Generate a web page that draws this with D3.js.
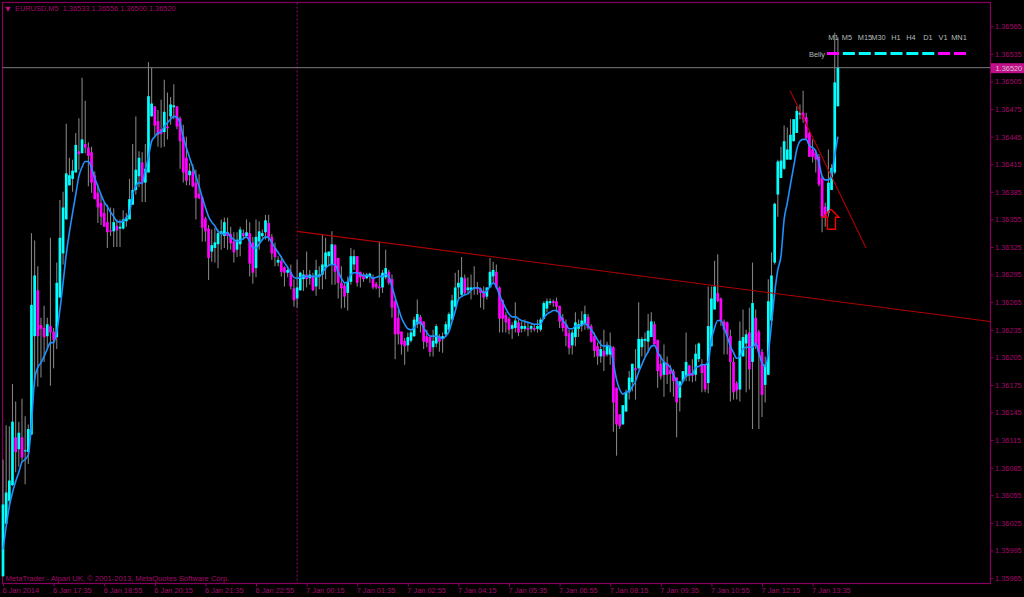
<!DOCTYPE html>
<html><head><meta charset="utf-8">
<script src="https://cdn.jsdelivr.net/npm/d3@7/dist/d3.min.js"></script>
<style>
html,body{margin:0;padding:0;background:#000;overflow:hidden}
svg{display:block}
text{font-family:"Liberation Sans",Arial,sans-serif}
</style></head><body><svg id="c" width="1024" height="597"></svg>
<script>
// all prices are stored as points above 1.36000 (1 point = 0.00001)
const opens=[
-33,24,49,66,118,105,118,103,102,121,
228,278,240,237,228,239,233,227,270,318,
355,392,399,406,429,427,437,433,428,403,
384,373,362,352,343,342,348,345,345,353,
355,371,387,402,417,395,406,467,478,462,
453,450,456,467,477,478,465,445,422,403,
407,395,383,379,356,345,320,324,328,339,
337,341,339,331,322,328,340,337,340,330,
302,331,337,341,351,336,324,308,310,303,
297,298,280,269,278,290,295,291,293,282,
293,295,303,315,306,327,313,286,283,275,
287,306,315,298,295,291,293,292,285,282,
281,292,298,290,266,248,233,223,218,223,
228,241,249,244,228,227,216,220,228,225,
230,235,246,260,281,273,291,278,278,280,
281,280,277,271,281,293,298,281,267,251,
247,236,237,243,236,236,237,236,237,236,
235,247,258,264,266,266,261,248,241,231,
218,227,236,239,241,249,239,228,217,206,
212,208,208,216,172,143,132,146,167,178,
193,193,216,223,222,227,241,224,198,186,
199,191,190,183,161,179,184,196,188,186,
203,197,197,177,217,257,275,269,244,243,
228,200,177,170,206,220,232,200,248,233,
211,175,186,245,308,382,400,410,420,420,
440,449,469,471,466,449,431,428,423,400,
369,362,387,406,478];
const highs=[
94,131,130,176,157,135,160,141,132,340,
332,304,248,261,248,335,237,308,376,385,
459,422,420,449,465,509,484,439,434,407,
393,382,374,371,368,367,355,355,365,362,
399,437,467,429,428,437,526,520,478,474,
485,507,493,488,502,478,467,458,445,416,
415,409,404,379,358,349,344,346,344,355,
357,357,347,341,341,347,344,355,352,336,
355,353,344,360,360,339,330,315,315,304,
303,306,290,311,298,300,320,300,297,311,
304,339,335,320,342,328,313,304,286,293,
324,322,315,298,297,297,297,295,287,331,
300,322,300,295,268,257,233,226,232,235,
249,268,251,244,235,227,235,241,230,232,
244,254,273,297,300,314,295,292,295,304,
287,281,282,281,313,309,306,282,268,254,
249,243,265,246,244,246,244,241,241,246,
248,266,269,269,268,270,261,252,246,235,
235,254,246,255,261,252,241,232,221,224,
235,222,232,217,172,143,153,170,190,198,
214,265,227,232,252,254,244,224,208,219,
206,197,192,183,179,190,232,197,203,219,
221,203,197,282,282,310,317,270,246,244,
235,205,179,244,257,235,259,308,257,235,
214,206,290,319,373,420,434,457,455,464,
464,478,480,495,471,450,442,431,426,402,
373,431,415,558,553];
const lows=[
-34,24,43,65,80,86,91,67,89,121,
173,173,183,200,214,174,193,214,270,306,
355,392,385,406,409,427,427,391,384,377,
351,349,347,324,337,325,325,325,344,347,
355,371,382,390,374,374,406,467,446,434,
433,434,442,458,464,453,410,395,392,392,
390,355,377,331,331,289,309,308,302,322,
324,322,322,308,314,315,333,335,293,285,
292,322,335,333,331,311,304,304,293,282,
292,279,260,259,277,277,281,284,277,272,
279,279,290,304,284,284,269,258,259,256,
284,300,282,281,287,290,286,279,279,270,
275,290,284,248,203,219,208,197,211,221,
227,237,232,214,216,206,206,216,211,210,
227,233,244,259,268,272,273,275,268,273,
273,259,257,268,281,287,279,232,232,232,
230,225,232,228,232,233,228,232,233,232,
233,246,254,262,260,254,237,233,217,208,
208,217,227,233,235,235,221,205,197,199,
190,206,197,124,98,127,132,146,159,168,
159,192,206,206,210,227,219,172,181,162,
176,167,162,118,146,178,179,179,178,179,
200,167,167,166,217,257,265,239,208,208,
157,159,159,157,206,167,170,127,214,127,
140,156,186,245,306,358,400,409,420,420,
440,449,464,460,443,423,417,406,391,341,
347,358,387,404,478];
const closes=[
45,58,71,135,102,123,96,104,127,262,
294,228,236,227,241,232,224,286,335,368,
405,403,408,436,426,442,433,424,395,377,
368,358,347,341,342,352,343,347,355,357,
377,387,409,422,395,410,489,481,457,447,
448,472,454,480,479,456,440,406,397,408,
391,378,378,346,342,313,327,330,340,342,
352,337,329,319,333,344,337,341,307,297,
336,342,340,354,336,318,314,311,298,297,
300,282,267,281,297,295,290,295,278,300,
295,306,319,320,328,298,286,280,271,287,
315,315,286,292,290,295,296,281,281,280,
297,302,286,259,230,230,219,217,227,232,
246,252,241,222,221,211,223,239,222,228,
241,252,267,281,286,292,275,281,281,281,
279,275,270,281,298,300,281,247,247,243,
235,240,245,232,239,239,235,239,235,239,
246,264,266,266,264,260,244,237,228,215,
232,243,241,245,252,237,222,212,206,214,
206,218,217,156,132,130,153,167,183,198,
191,225,225,225,234,244,219,190,184,200,
186,187,179,156,179,190,200,185,185,209,
220,188,170,239,269,282,266,244,235,228,
200,167,169,223,227,230,192,264,217,210,
164,197,266,294,372,418,419,440,431,447,
464,473,471,464,443,423,423,420,393,358,
358,395,411,504,520];
const maValues=[
-4,21,43,58,70,80,91,94,99,132,
181,194,199,206,214,221,221,233,257,286,
317,341,362,382,402,412,418,418,411,400,
391,382,374,369,363,358,353,352,353,357,
362,382,391,395,394,409,423,440,445,449,
450,456,460,464,467,466,460,444,433,422,
412,402,391,379,368,358,352,348,342,340,
339,341,336,333,331,332,334,336,331,324,
324,328,333,336,335,330,324,319,314,308,
303,297,292,291,292,293,293,293,293,293,
293,297,302,305,306,306,298,291,286,287,
295,297,297,295,294,294,293,291,292,293,
293,295,293,282,270,259,248,241,236,235,
237,243,243,237,232,228,228,228,227,225,
228,233,244,255,268,271,273,274,278,280,
281,279,275,277,282,286,282,273,265,258,
252,249,249,247,245,244,243,242,241,241,
241,248,252,254,256,256,252,245,241,236,
236,239,239,240,242,239,235,230,224,219,
217,218,216,199,181,170,165,167,168,173,
179,189,197,205,211,217,218,211,205,200,
197,194,186,179,173,179,185,186,187,194,
195,197,197,200,224,237,245,245,237,228,
217,210,204,206,214,216,216,216,220,210,
199,195,210,241,275,300,315,355,373,393,
412,431,440,442,442,435,433,429,417,402,
398,398,404,425,445];

const priceTicks=[565,535,505,475,445,415,385,355,325,295,265,235,205,175,145,115,85,55,25,-5,-35];
const timeLabels=["6 Jan 2014","6 Jan 17:35","6 Jan 18:55","6 Jan 20:15","6 Jan 21:35","6 Jan 22:55","7 Jan 00:15","7 Jan 01:35","7 Jan 02:55","7 Jan 04:15","7 Jan 05:35","7 Jan 06:55","7 Jan 08:15","7 Jan 09:35","7 Jan 10:55","7 Jan 12:15","7 Jan 13:35"];
const barsPerTick=16;
const lastPrice=520;
const sessionBar=93;
const neckLine=[[93,342],[312.2,244]];
const fallLine=[[248.9,495],[272.9,324]];
const arrowAt=[261.8,366];
const timeframes=["M1","M5","M15","M30","H1","H4","D1","V1","MN1"];
const bellyUp=[0,1,1,1,1,1,1,0,0];

const CY="#00ffff",MG="#ff00ff",FR="#860060",TX="#a5086c";
const FS=7.4;
const svg=d3.select("#c");
const L=2.5,R=990.5,T=2.5,B=583.5;
svg.append("rect").attr("width",1024).attr("height",597).attr("fill","#000");

const x=d3.scaleLinear().domain([0,barsPerTick]).range([3,53.6]);
const y=d3.scaleLinear().domain([565,-35]).range([26.3,578]);

const gY=svg.append("g").attr("transform",`translate(${R},0)`)
 .call(d3.axisRight(y).tickValues(priceTicks).tickSize(3).tickPadding(1.5).tickFormat(d=>(1.36+d/1e5).toFixed(5)));
const gX=svg.append("g").attr("transform",`translate(0,${B})`)
 .call(d3.axisBottom(x).tickValues(timeLabels.map((d,i)=>i*barsPerTick)).tickSize(3).tickPadding(1).tickFormat((d,i)=>timeLabels[i]));
[gY,gX].forEach(g=>{g.select(".domain").remove();g.selectAll("line").attr("stroke",FR);g.selectAll("text").attr("fill",TX).attr("font-size",FS).attr("font-family","'Liberation Sans'");});
gX.selectAll("text").attr("text-anchor","start").attr("dx",-1);

svg.append("rect").attr("x",L).attr("y",T).attr("width",R-L).attr("height",B-T).attr("fill","none").attr("stroke",FR).attr("stroke-width",1.2);

svg.append("line").attr("x1",x(sessionBar)).attr("x2",x(sessionBar)).attr("y1",T).attr("y2",B).attr("stroke",FR).attr("stroke-width",1.2).attr("stroke-dasharray","2,2");

svg.append("line").attr("x1",L).attr("x2",R).attr("y1",y(lastPrice)).attr("y2",y(lastPrice)).attr("stroke","#7a7a7a").attr("stroke-width",1);

const idx=d3.range(opens.length);
svg.append("g").selectAll("line").data(idx).join("line")
 .attr("x1",i=>x(i)).attr("x2",i=>x(i)).attr("y1",i=>y(highs[i])).attr("y2",i=>y(lows[i]))
 .attr("stroke","#808080").attr("stroke-width",1.1);
svg.append("g").selectAll("rect").data(idx).join("rect")
 .attr("x",i=>x(i)-1.35).attr("width",2.7)
 .attr("y",i=>y(Math.max(opens[i],closes[i])))
 .attr("height",i=>Math.max(1.2,Math.abs(y(opens[i])-y(closes[i]))))
 .attr("fill",i=>closes[i]>=opens[i]?CY:MG);

svg.append("path").datum(idx).attr("fill","none").attr("stroke","#1e90ff").attr("stroke-width",1.6)
 .attr("d",d3.line().x(i=>x(i)).y(i=>y(maValues[i])).curve(d3.curveMonotoneX));

const ln=d3.line().x(d=>x(d[0])).y(d=>y(d[1]));
[neckLine,fallLine].forEach(a=>svg.append("path").attr("d",ln(a)).attr("fill","none").attr("stroke","#b00000").attr("stroke-width",1.1));

svg.append("path").attr("transform",`translate(${x(arrowAt[0])},${y(arrowAt[1])})`)
 .attr("d",d3.line()([[-3.5,20],[4.5,20],[4.5,8],[8,8],[0,0],[-8,8],[-3.5,8]])+"Z")
 .attr("fill","none").attr("stroke","#f00000").attr("stroke-width",1.4);

// header
svg.append("path").attr("d",d3.symbol(d3.symbolTriangle,14)()).attr("transform","translate(8,8.5) rotate(180)").attr("fill","#c0107f");
svg.append("text").attr("x",15).attr("y",10.7).attr("font-size",FS).attr("fill",TX).attr("xml:space","preserve")
 .text("EURUSD,M5  1.36533 1.36556 1.36500 1.36520");
svg.append("text").attr("x",5.5).attr("y",580.6).attr("font-size",7.6).attr("fill",TX)
 .text("MetaTrader - Alpari UK, © 2001-2013, MetaQuotes Software Corp.");

// last price label
svg.append("rect").attr("x",991).attr("y",y(lastPrice)-4.5).attr("width",33).attr("height",10).attr("fill","#c00f88");
svg.append("text").attr("x",995.5).attr("y",y(lastPrice)+3).attr("font-size",FS).attr("fill","#d8c0d0").text((1.36+lastPrice/1e5).toFixed(5));

// timeframe panel
const centers=[833.5,847,865,878.5,896,911,928,943,959];
svg.append("g").selectAll("text").data(timeframes).join("text")
 .attr("x",(d,i)=>centers[i]).attr("y",39.6).attr("text-anchor","middle").attr("font-size",7.4).attr("fill","#b4bcbc").text(d=>d);
svg.append("text").attr("x",817).attr("y",56.6).attr("text-anchor","middle").attr("font-size",7.4).attr("fill","#b4bcbc").text("Belly");
const dashX=d3.scaleLinear().domain([0,8]).range([827,954]);
svg.append("g").selectAll("rect").data(bellyUp).join("rect")
 .attr("x",(d,i)=>dashX(i)).attr("y",52).attr("width",12).attr("height",3).attr("fill",d=>d?CY:MG);
</script></body></html>
